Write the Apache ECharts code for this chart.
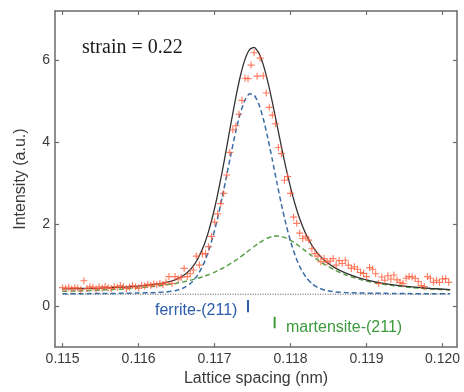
<!DOCTYPE html>
<html><head><meta charset="utf-8">
<script src="https://cdn.jsdelivr.net/npm/echarts@6/dist/echarts.min.js"></script>
<style>html,body{margin:0;padding:0;background:#fff}#c{width:464px;height:392px}</style>
</head><body><div id="c"></div>
<script>
// ---- data ----
const tickX = [0.115, 0.116, 0.117, 0.118, 0.119, 0.120];
const tickY = [0, 2, 4, 6];

const pointX = [
0.11500,0.11504,0.11508,0.11512,0.11516,0.11520,0.11524,0.11528,0.11532,0.11536,
0.11540,0.11544,0.11548,0.11552,0.11556,0.11560,0.11564,0.11568,0.11572,0.11576,
0.11580,0.11584,0.11588,0.11592,0.11596,0.11600,0.11604,0.11608,0.11612,0.11616,
0.11620,0.11624,0.11628,0.11632,0.11636,0.11640,0.11644,0.11648,0.11652,0.11656,
0.11660,0.11664,0.11668,0.11672,0.11676,0.11680,0.11684,0.11688,0.11692,0.11696,
0.11700,0.11704,0.11708,0.11712,0.11716,0.11720,0.11724,0.11728,0.11732,0.11736,
0.11740,0.11744,0.11748,0.11752,0.11756,0.11760,0.11764,0.11768,0.11772,0.11776,
0.11780,0.11784,0.11788,0.11792,0.11796,0.11800,0.11804,0.11808,0.11812,0.11816,
0.11820,0.11824,0.11828,0.11832,0.11836,0.11840,0.11844,0.11848,0.11852,0.11856,
0.11860,0.11864,0.11868,0.11872,0.11876,0.11880,0.11884,0.11888,0.11892,0.11896,
0.11900,0.11904,0.11908,0.11912,0.11916,0.11920,0.11924,0.11928,0.11932,0.11936,
0.11940,0.11944,0.11948,0.11952,0.11956,0.11960,0.11964,0.11968,0.11972,0.11976,
0.11980,0.11984,0.11988,0.11992,0.11996,0.12000,0.12004,0.12008];
const pointY = [
0.45,0.43,0.46,0.42,0.45,0.44,0.40,0.62,0.43,0.47,
0.46,0.42,0.47,0.44,0.48,0.45,0.43,0.48,0.46,0.50,
0.47,0.43,0.46,0.50,0.47,0.44,0.51,0.49,0.53,0.50,
0.54,0.52,0.55,0.53,0.58,0.72,0.55,0.72,0.66,0.70,
0.92,0.72,0.79,0.88,1.22,1.00,1.27,1.28,1.45,1.70,
2.05,2.25,2.50,2.75,3.20,3.75,4.30,4.40,4.68,5.02,
5.56,5.55,5.88,6.18,5.61,6.05,5.62,5.20,4.85,4.66,
4.45,3.87,3.72,3.07,3.16,2.75,2.17,2.02,1.78,1.65,
1.69,1.61,1.40,1.28,1.22,1.08,1.16,1.08,1.10,1.16,
1.00,1.11,1.04,1.12,1.00,0.92,0.96,0.90,0.82,0.80,
0.72,0.94,0.90,0.79,0.55,0.71,0.63,0.74,0.66,0.76,
0.64,0.58,0.55,0.68,0.72,0.71,0.68,0.60,0.50,0.48,
0.72,0.68,0.58,0.63,0.58,0.66,0.67,0.58];

const curveX = [0.11500,0.11525,0.11550,0.11575,0.11600,0.11620,0.11635,0.11648,0.11660,0.11670,
0.11678,0.11686,0.11692,0.11698,0.11704,0.11710,0.11716,0.11722,0.11728,0.11734,
0.11740,0.11746,0.11752,0.11758,0.11764,0.11770,0.11776,0.11782,0.11788,0.11794,
0.11800,0.11806,0.11812,0.11820,0.11828,0.11836,0.11846,0.11858,0.11872,0.11890,
0.11910,0.11935,0.11960,0.11985,0.12010];
const fitTotal = [0.42,0.43,0.44,0.46,0.49,0.53,0.570,0.641,0.757,0.933,
1.156,1.485,1.818,2.229,2.719,3.279,3.884,4.505,5.100,5.620,
6.019,6.259,6.312,6.184,5.893,5.476,4.975,4.432,3.886,3.365,
2.892,2.480,2.131,1.762,1.485,1.281,1.095,0.938,0.809,0.690,
0.598,0.520,0.467,0.430,0.404];
const fitFerrite = [0.301,0.303,0.307,0.311,0.319,0.329,0.344,0.377,0.451,0.583,
0.766,1.048,1.341,1.707,2.148,2.652,3.196,3.749,4.271,4.712,
5.027,5.180,5.148,4.939,4.577,4.104,3.567,3.012,2.478,1.993,
1.576,1.235,0.967,0.712,0.549,0.451,0.385,0.349,0.332,0.321,
0.314,0.308,0.304,0.302,0.300];
const fitMartensite = [0.360,0.373,0.390,0.414,0.446,0.482,0.516,0.554,0.596,0.640,
0.680,0.727,0.767,0.812,0.861,0.917,0.978,1.046,1.120,1.199,
1.283,1.369,1.454,1.535,1.606,1.662,1.698,1.710,1.698,1.662,
1.606,1.535,1.454,1.340,1.226,1.120,1.000,0.879,0.767,0.659,
0.574,0.501,0.453,0.418,0.394];

const baselineX = [0.11500, 0.12010];
const baselineY = [0.29, 0.29];
const ferritePeakX = [0.11744, 0.11744];
const ferritePeakY = [0.15, -0.15];
const martensitePeakX = [0.11779, 0.11779];
const martensitePeakY = [-0.26, -0.54];

// ---- chart ----
const zip = (xs, ys) => xs.map((x, i) => [x, ys[i]]);
const axisColor = '#6b6b6b';
const textColor = '#3a3a3a';
const sans = 'Liberation Sans, Arial, sans-serif';
const xMin = 0.1149, xMax = 0.12019, yMin = -1, yMax = 7.2;

const xBase = {
  type: 'value', min: xMin, max: xMax,
  axisLine: { onZero: false, lineStyle: { color: axisColor, width: 1.5 } },
  axisTick: { inside: true, length: 4, customValues: tickX, lineStyle: { color: axisColor, width: 1.2 } },
  splitLine: { show: false }
};
const yBase = {
  type: 'value', min: yMin, max: yMax,
  axisLine: { onZero: false, lineStyle: { color: axisColor, width: 1.5 } },
  axisTick: { inside: true, length: 4, customValues: tickY, lineStyle: { color: axisColor, width: 1.2 } },
  splitLine: { show: false }
};

const chart = echarts.init(document.getElementById('c'));
chart.setOption({
  animation: false,
  grid: { left: 55, right: 7, top: 11, bottom: 41 },
  xAxis: [
    Object.assign({}, xBase, {
      position: 'bottom',
      axisLabel: { customValues: tickX, formatter: v => v.toFixed(3), fontSize: 14, color: textColor, fontFamily: sans, margin: 5 },
      name: 'Lattice spacing (nm)', nameLocation: 'middle', nameGap: 22,
      nameTextStyle: { fontSize: 16, color: textColor, fontFamily: sans }
    }),
    Object.assign({}, xBase, { position: 'top', axisLabel: { show: false } })
  ],
  yAxis: [
    Object.assign({}, yBase, {
      position: 'left',
      axisLabel: { customValues: tickY, formatter: v => String(v), fontSize: 14, color: textColor, fontFamily: sans, margin: 5 },
      name: 'Intensity (a.u.)', nameLocation: 'middle', nameGap: 26, nameRotate: 90,
      nameTextStyle: { fontSize: 16, color: textColor, fontFamily: sans }
    }),
    Object.assign({}, yBase, { position: 'right', axisLabel: { show: false } })
  ],
  series: [
    { type: 'line', data: zip(baselineX, baselineY), symbol: 'none', silent: true,
      lineStyle: { color: '#555', width: 1, type: [1, 1.5] } },
    { type: 'line', data: zip(curveX, fitMartensite), symbol: 'none', smooth: 0.2,
      lineStyle: { color: '#5a9f48', width: 1.5, type: [5, 3] } },
    { type: 'line', data: zip(curveX, fitFerrite), symbol: 'none', smooth: 0.2,
      lineStyle: { color: '#3a6ca6', width: 1.5, type: [5, 3] } },
    { type: 'line', data: zip(curveX, fitTotal), symbol: 'none', smooth: 0.2,
      lineStyle: { color: '#333333', width: 1.3 } },
    { type: 'scatter', data: zip(pointX, pointY), symbolSize: 7,
      symbol: 'path://M4.2,0H5.8V4.2H10V5.8H5.8V10H4.2V5.8H0V4.2H4.2Z',
      itemStyle: { color: '#ff5a38' }, z: 5 },
    { type: 'line', data: zip(ferritePeakX, ferritePeakY), symbol: 'none',
      lineStyle: { color: '#2a5caa', width: 2 } },
    { type: 'line', data: zip(martensitePeakX, martensitePeakY), symbol: 'none',
      lineStyle: { color: '#3c9a3c', width: 2 } }
  ],
  graphic: [
    { type: 'text', x: 82, y: 48, style: { text: 'strain = 0.22', fontFamily: 'Liberation Serif, Times New Roman, serif', fontSize: 20, fill: '#1a1a1a', verticalAlign: 'middle' } },
    { type: 'text', x: 155, y: 311, style: { text: 'ferrite-(211)', fontFamily: sans, fontSize: 16, fill: '#2a5caa', verticalAlign: 'middle' } },
    { type: 'text', x: 286, y: 328, style: { text: 'martensite-(211)', fontFamily: sans, fontSize: 16, fill: '#3c9a3c', verticalAlign: 'middle' } }
  ]
});
</script>
</body></html>
